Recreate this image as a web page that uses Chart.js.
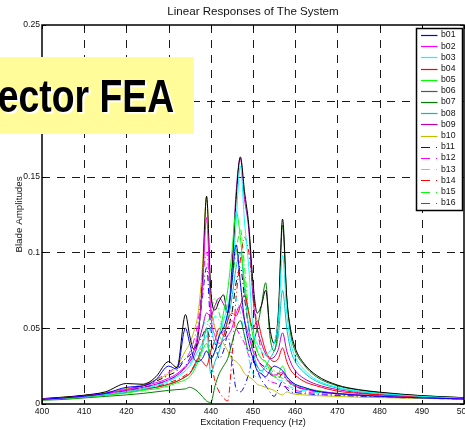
<!DOCTYPE html>
<html>
<head>
<meta charset="utf-8">
<script src="https://cdn.jsdelivr.net/npm/chart.js@4/dist/chart.umd.min.js"></script>
<style>
html,body{margin:0;padding:0;background:#fff;}
canvas{display:block;}
</style>
</head>
<body>
<canvas id="c" width="465" height="430"></canvas>
<script>
const TITLE = 'Linear Responses of The System';
const X_TITLE = 'Excitation Frequency (Hz)';
const Y_TITLE = 'Blade Amplitudes';
const OVERLAY_TEXT = 'ector FEA';
const X_TICKS = [400,410,420,430,440,450,460,470,480,490,500];
const Y_TICKS = [0,0.05,0.1,0.15,0.2,0.25];
const Y_TICK_LABELS = ['0','0.05','0.1','0.15','0.2','0.25'];
const NAMES = ['b01','b02','b03','b04','b05','b06','b07','b08','b09','b10','b11','b12','b13','b14','b15','b16'];

const FREQ = [400,405,410,415,420,424,427,430,432,434,435,436,437,438,439,440,441,442,443,444,445,446,447,448,449,450,451,452,453,454,455,456,457,458,459,460,462,465,470,475,480,490,500];

const B01 = [.003,.004,.0052,.007,.011,.012,.016,.025,.023,.05,.04,.03,.028,.03,.035,.03,.035,.045,.05,.06,.08,.105,.08,.055,.04,.03,.022,.02,.018,.022,.025,.024,.022,.018,.015,.013,.011,.0085,.0068,.0058,.005,.004,.0033];
const B02 = [.0032,.004,.0052,.007,.0095,.012,.014,.017,.02,.025,.028,.035,.048,.075,.123,.06,.045,.04,.042,.045,.05,.06,.065,.055,.045,.035,.03,.025,.022,.02,.019,.02,.021,.016,.014,.012,.01,.0085,.007,.006,.0052,.0042,.0034];
const B03 = [.003,.0038,.0048,.0062,.008,.01,.012,.015,.018,.022,.025,.03,.035,.04,.045,.05,.04,.045,.055,.065,.08,.12,.157,.12,.09,.05,.04,.035,.032,.035,.04,.055,.098,.06,.04,.031,.023,.016,.011,.0085,.007,.005,.0038];
const B04 = [.003,.0038,.0048,.0062,.008,.01,.011,.013,.015,.018,.02,.025,.03,.028,.025,.035,.042,.05,.045,.055,.06,.058,.065,.072,.06,.05,.055,.045,.035,.03,.028,.03,.037,.028,.022,.019,.015,.012,.0085,.007,.006,.0046,.0037];
const B05 = [.0028,.0035,.0045,.0057,.0072,.009,.01,.012,.014,.016,.018,.022,.028,.035,.04,.03,.035,.045,.06,.075,.1,.127,.11,.08,.06,.045,.035,.03,.028,.022,.018,.02,.025,.018,.015,.013,.011,.009,.007,.006,.0052,.0042,.0034];
const B06 = [.0035,.0045,.0058,.008,.0135,.013,.018,.028,.024,.059,.045,.036,.045,.08,.137,.075,.062,.068,.072,.06,.085,.135,.163,.14,.118,.08,.06,.065,.075,.05,.04,.06,.122,.07,.048,.037,.027,.019,.0125,.0095,.0078,.0055,.0042];
const B07 = [.0025,.003,.004,.005,.006,.007,.008,.009,.0095,.01,.011,.01,.008,.005,.002,.001,.012,.02,.025,.03,.04,.05,.055,.045,.035,.04,.05,.065,.08,.045,.035,.055,.118,.07,.045,.035,.026,.018,.012,.0092,.0075,.0054,.0041];
const B08 = [.0029,.0037,.0047,.006,.0078,.0095,.011,.013,.015,.018,.02,.024,.03,.037,.05,.02,.028,.035,.045,.055,.07,.09,.1,.075,.05,.035,.025,.022,.025,.03,.035,.045,.075,.05,.035,.028,.021,.015,.0105,.0082,.0068,.005,.0039];
const B09 = [.0033,.0042,.0055,.007,.009,.011,.013,.016,.019,.024,.028,.032,.04,.05,.06,.058,.065,.07,.066,.06,.09,.14,.162,.135,.115,.07,.05,.04,.033,.03,.031,.036,.047,.035,.027,.022,.017,.013,.0095,.0075,.0062,.0048,.0038];
const B10 = [.0035,.0045,.0057,.0075,.01,.013,.016,.02,.025,.035,.04,.048,.06,.09,.137,.07,.05,.045,.04,.035,.03,.028,.025,.02,.018,.016,.013,.012,.011,.01,.009,.007,.006,.008,.007,.0065,.006,.0055,.005,.0045,.0042,.0037,.0032];
const B11 = [.0032,.004,.0051,.0067,.009,.011,.013,.016,.019,.025,.03,.036,.048,.07,.09,.05,.04,.03,.035,.045,.03,.01,.008,.012,.02,.03,.022,.016,.012,.008,.005,.01,.015,.01,.008,.0075,.007,.0062,.0055,.005,.0045,.0038,.0032];
const B12 = [.0033,.0042,.0055,.0072,.0098,.013,.016,.021,.025,.03,.034,.042,.055,.08,.1,.065,.05,.045,.048,.05,.055,.05,.045,.04,.032,.028,.025,.02,.017,.015,.014,.013,.012,.011,.01,.009,.008,.007,.006,.0053,.0047,.004,.0033];
const B13 = [.003,.0038,.0049,.0064,.0085,.0105,.0125,.015,.018,.022,.026,.032,.04,.05,.055,.05,.058,.055,.05,.06,.075,.07,.06,.045,.03,.02,.018,.02,.025,.022,.018,.016,.015,.013,.011,.01,.0088,.0076,.0064,.0056,.005,.0041,.0034];
const B14 = [.003,.0038,.0048,.0062,.008,.0098,.0115,.014,.016,.019,.021,.025,.03,.04,.05,.03,.015,.008,.004,.002,.03,.07,.095,.11,.1,.075,.05,.035,.028,.025,.022,.02,.019,.016,.014,.012,.01,.0085,.007,.006,.0052,.0042,.0034];
const B15 = [.0029,.0037,.0047,.006,.0078,.0095,.011,.013,.015,.018,.02,.024,.03,.04,.05,.06,.07,.06,.05,.06,.08,.1,.115,.09,.06,.045,.035,.03,.027,.024,.02,.018,.017,.015,.013,.0115,.0098,.0082,.0067,.0058,.0051,.0041,.0034];
const B16 = [.0034,.0044,.0056,.0074,.01,.012,.015,.019,.022,.03,.032,.035,.04,.045,.05,.04,.035,.038,.042,.05,.06,.08,.09,.07,.05,.04,.03,.026,.024,.02,.018,.017,.02,.016,.013,.0115,.0098,.0082,.0067,.0058,.0051,.0041,.0034];

const SERIES_VALUES = [B01,B02,B03,B04,B05,B06,B07,B08,B09,B10,B11,B12,B13,B14,B15,B16];
const COLORS = ['#0000ff','#ff00ff','#00ffff','#ff0000','#00ff00','#000000','#008000','#00bfbf','#bf00bf','#bfbf00',
                '#0000ff','#ff00ff','#00ffff','#ff0000','#00ff00','#000000'];
const DASHDOT = [6,3,1,3];

const datasets = NAMES.map((n, i) => ({
  label: n,
  data: FREQ.map((f, k) => ({x: f, y: SERIES_VALUES[i][k]})),
  borderColor: COLORS[i],
  backgroundColor: COLORS[i],
  borderWidth: 1,
  borderDash: i >= 10 ? DASHDOT : [],
  pointRadius: 0,
  fill: false,
  cubicInterpolationMode: 'monotone'
}));

const FONT = '"Liberation Sans", Arial, Helvetica, sans-serif';

const deco = {
  id: 'deco',
  beforeDatasetsDraw(chart) {
    const {ctx, chartArea: a, scales: {x, y}} = chart;
    ctx.save();
    ctx.strokeStyle = '#1a1a1a';
    ctx.lineWidth = 1;
    ctx.setLineDash([8, 7]);
    X_TICKS.forEach(v => {
      const px = Math.round(x.getPixelForValue(v)) + 0.5;
      if (px <= a.left + 1 || px >= a.right - 1) return;
      ctx.beginPath(); ctx.moveTo(px, a.top); ctx.lineTo(px, a.bottom); ctx.stroke();
    });
    Y_TICKS.forEach(v => {
      const py = Math.round(y.getPixelForValue(v)) + 0.5;
      if (py <= a.top + 1 || py >= a.bottom - 1) return;
      ctx.beginPath(); ctx.moveTo(a.left, py); ctx.lineTo(a.right, py); ctx.stroke();
    });
    ctx.restore();
  },
  afterDatasetsDraw(chart) {
    const {ctx, chartArea: a, scales: {x, y}} = chart;
    ctx.save();
    ctx.setLineDash([]);
    ctx.strokeStyle = '#000';
    ctx.lineWidth = 1.5;
    ctx.strokeRect(a.left, a.top, a.right - a.left, a.bottom - a.top);
    ctx.lineWidth = 1;
    X_TICKS.forEach(v => {
      const px = Math.round(x.getPixelForValue(v)) + 0.5;
      ctx.beginPath(); ctx.moveTo(px, a.bottom); ctx.lineTo(px, a.bottom - 4); ctx.stroke();
      ctx.beginPath(); ctx.moveTo(px, a.top); ctx.lineTo(px, a.top + 4); ctx.stroke();
    });
    Y_TICKS.forEach(v => {
      const py = Math.round(y.getPixelForValue(v)) + 0.5;
      ctx.beginPath(); ctx.moveTo(a.left, py); ctx.lineTo(a.left + 4, py); ctx.stroke();
      ctx.beginPath(); ctx.moveTo(a.right, py); ctx.lineTo(a.right - 4, py); ctx.stroke();
    });
    ctx.fillStyle = '#111';
    ctx.font = '8.6px ' + FONT;
    ctx.textAlign = 'center'; ctx.textBaseline = 'middle';
    X_TICKS.forEach(v => ctx.fillText(String(v), x.getPixelForValue(v), a.bottom + 7.5));
    ctx.textAlign = 'right';
    Y_TICKS.forEach((v, i) => ctx.fillText(Y_TICK_LABELS[i], a.left - 2, y.getPixelForValue(v)));
    ctx.font = '11.6px ' + FONT;
    ctx.textAlign = 'center';
    ctx.fillText(TITLE, (a.left + a.right) / 2, 11.5);
    ctx.font = '9.2px ' + FONT;
    ctx.fillText(X_TITLE, (a.left + a.right) / 2, a.bottom + 18.5);
    ctx.save();
    ctx.font = '9.8px ' + FONT;
    ctx.translate(19.5, (a.top + a.bottom) / 2);
    ctx.rotate(-Math.PI / 2);
    ctx.fillText(Y_TITLE, 0, 0);
    ctx.restore();
    const lx0 = 416.5, ly0 = 28.5, lx1 = 462.5, ly1 = 210.5;
    ctx.fillStyle = '#fff';
    ctx.fillRect(lx0, ly0, lx1 - lx0, ly1 - ly0);
    ctx.strokeStyle = '#000';
    ctx.lineWidth = 1.5;
    ctx.strokeRect(lx0, ly0, lx1 - lx0, ly1 - ly0);
    ctx.font = '8.7px ' + FONT;
    ctx.textAlign = 'left';
    chart.data.datasets.forEach((ds, i) => {
      const yy = 35 + i * 11.18;
      ctx.strokeStyle = ds.borderColor === '#000000' ? '#555' : ds.borderColor;
      ctx.lineWidth = 1.2;
      ctx.setLineDash(ds.borderDash.length ? [9, 6, 1, 3] : []);
      ctx.beginPath(); ctx.moveTo(421, Math.round(yy) + 0.5); ctx.lineTo(437.5, Math.round(yy) + 0.5); ctx.stroke();
      ctx.setLineDash([]);
      ctx.fillStyle = '#111';
      ctx.fillText(ds.label, 441, yy);
    });
    ctx.restore();
  },
  afterDraw(chart) {
    const {ctx} = chart;
    ctx.save();
    ctx.fillStyle = '#fffc99';
    ctx.fillRect(0, 57, 194, 77);
    ctx.font = 'bold 47px "Liberation Sans Narrow", "Arial Narrow", ' + FONT;
    ctx.textBaseline = 'alphabetic';
    ctx.textAlign = 'left';
    const m = ctx.measureText(OVERLAY_TEXT);
    const inkW = m.actualBoundingBoxLeft + m.actualBoundingBoxRight;
    const targetL = -1.5, targetR = 173.5;
    const sx = (targetR - targetL) / inkW;
    ctx.translate(targetL, 112);
    ctx.scale(sx, 1);
    ctx.fillStyle = '#fff';
    ctx.fillText(OVERLAY_TEXT, m.actualBoundingBoxLeft + 2 / sx, 2);
    ctx.fillStyle = '#000';
    ctx.fillText(OVERLAY_TEXT, m.actualBoundingBoxLeft, 0);
    ctx.restore();
  }
};

new Chart(document.getElementById('c'), {
  type: 'line',
  data: {datasets},
  options: {
    responsive: false,
    animation: false,
    devicePixelRatio: 1,
    layout: {padding: {left: 42, right: 1, top: 25, bottom: 26}},
    scales: {
      x: {type: 'linear', min: 400, max: 500, display: false},
      y: {type: 'linear', min: 0, max: 0.25, display: false}
    },
    plugins: {legend: {display: false}, title: {display: false}, tooltip: {enabled: false}},
    elements: {point: {radius: 0}}
  },
  plugins: [deco]
});
</script>
</body>
</html>
